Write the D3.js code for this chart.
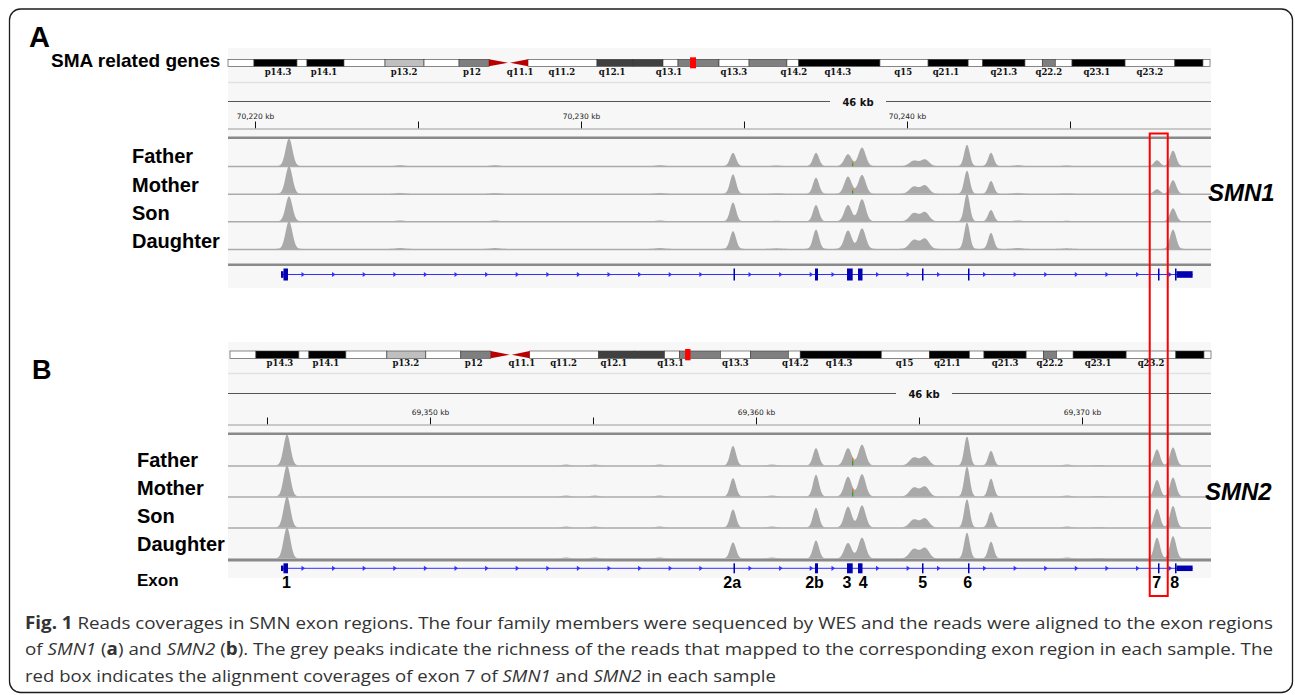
<!DOCTYPE html>
<html>
<head>
<meta charset="utf-8">
<title>Reads coverages in SMN exon regions</title>
<script src="https://cdn.jsdelivr.net/npm/d3@7/dist/d3.min.js"></script>
<style>
  html, body { margin: 0; padding: 0; background: #ffffff; }
  svg { display: block; }
</style>
</head>
<body>
<svg id="fig" width="1295" height="695"></svg>
<script>
// ======================= DATA =======================
const samples = ["Father", "Mother", "Son", "Daughter"];
const exonNames = ["1", "2a", "2b", "3", "4", "5", "6", "7", "8"];

// SMN1 (panel A) exon coordinates (kb)
const smn1ExonStart = [70220.798, 70234.678, 70237.178, 70238.160, 70238.497, 70240.460, 70241.871, 70247.699, 70248.221];
const smn1ExonEnd   = [70221.012, 70234.724, 70237.270, 70238.334, 70238.635, 70240.506, 70241.917, 70247.745, 70248.761];
const smn1Utr5End = 70220.874, smn1Utr3Start = 70248.267;
// SMN2 (panel B) exon coordinates (kb)
const smn2ExonStart = [69345.430, 69359.310, 69361.810, 69362.792, 69363.129, 69365.092, 69366.503, 69372.331, 69372.853];
const smn2ExonEnd   = [69345.644, 69359.356, 69361.902, 69362.966, 69363.267, 69365.138, 69366.549, 69372.377, 69373.393];
const smn2Utr5End = 69345.506, smn2Utr3Start = 69372.899;

// Visible windows (kb) and ruler ticks
const smn1View = [70219.172, 70249.325];
const smn2View = [69343.804, 69373.957];
const smn1TickKb = [70220, 70225, 70230, 70235, 70240, 70245];
const smn2TickKb = [69345, 69350, 69355, 69360, 69365, 69370];
const spanLabel = "46 kb";

// Coverage peaks (kb centres, widths) : 1, 2a, 2b, 3, 4, 5(a), 5(b), 6, 6', 7, 8
const peakIds = ["1", "2a", "2b", "3", "4", "5a", "5b", "6", "6b", "7", "8"];
const smn1PeakKb = [70221.043, 70234.663, 70237.209, 70238.190, 70238.620, 70240.215, 70240.552, 70241.840, 70242.577, 70247.669, 70248.160];
const smn2PeakKb = [69345.614, 69359.295, 69361.841, 69362.822, 69363.252, 69364.847, 69365.184, 69366.472, 69367.209, 69372.301, 69372.792];
const peakSdKb   = [0.105, 0.092, 0.092, 0.112, 0.112, 0.135, 0.125, 0.086, 0.086, 0.092, 0.095];

// Relative coverage (% of track range) per sample
const smn1Father   = [100, 48, 48, 43, 67, 20, 24, 77, 48, 21, 56];
const smn1Mother   = [100, 70, 58, 62, 68, 26, 30, 83, 46, 16, 49];
const smn1Son      = [90, 68, 59, 59, 80, 30, 33, 100, 41, 0, 47];
const smn1Daughter = [100, 64, 70, 67, 74, 33, 37, 95, 58, 0, 70];
const smn2Father   = [100, 63, 56, 56, 67, 26, 29, 93, 47, 52, 58];
const smn2Mother   = [100, 59, 70, 64, 72, 29, 32, 96, 57, 53, 61];
const smn2Son      = [100, 58, 63, 67, 71, 26, 29, 91, 50, 60, 69];
const smn2Daughter = [100, 52, 58, 50, 67, 31, 34, 83, 54, 67, 72];

// Low background bumps
const smn1MinorKb  = [70224.45, 70227.36, 70232.42, 70236.0, 70243.4, 70244.9];
const smn1MinorPct = [3, 3, 3, 2, 3, 2];
const smn2MinorKb  = [69354.17, 69355.05, 69357.04, 69360.49, 69369.54, 69370.51];
const smn2MinorPct = [3, 3, 3, 3, 3, 2];

// Mismatch marks (exon 3, Father and Mother)
const mismatchSamples = ["Father", "Mother"];
const smn1MismatchKb = 70238.331, smn1MismatchPct = 16;
const smn2MismatchKb = 69362.963, smn2MismatchPct = 25;

// Chromosome 5 ideogram (Mb)
const chrLengthMb = 181.5;
const bandStart = [0, 4.8, 12.75, 14.6, 21.44, 29.02, 36.23, 42.7, 48.24, 51.94, 55.45, 68.2, 74.86, 80.4, 83.17, 90.75, 96.3, 103.3, 105.5, 120.5, 129.4, 136.8, 139.5, 147.3, 150.5, 152.9, 156, 165.8, 175, 180.2];
const bandEnd   = [4.8, 12.75, 14.6, 21.44, 29.02, 36.23, 42.7, 48.24, 51.94, 55.45, 68.2, 74.86, 80.4, 83.17, 90.75, 96.3, 103.3, 105.5, 120.5, 129.4, 136.8, 139.5, 147.3, 150.5, 152.9, 156, 165.8, 175, 180.2, 181.5];
const bandStain = ["gneg","gpos100","gneg","gpos100","gneg","gpos25","gneg","gpos50","acen","acen","gneg","gpos75","gpos75","gneg","gpos50","gneg","gpos50","gneg","gpos100","gneg","gpos100","gneg","gpos100","gneg","gpos50","gneg","gpos100","gneg","gpos100","gneg"];
const bandLabels = ["p14.3","p14.1","p13.2","p12","q11.1","q11.2","q12.1","q13.1","q13.3","q14.2","q14.3","q15","q21.1","q21.3","q22.2","q23.1","q23.2"];
const bandLabelMb = [9.24, 17.74, 32.53, 45.1, 54.0, 61.7, 71.0, 81.5, 93.5, 104.6, 112.7, 124.8, 132.7, 143.4, 151.7, 160.6, 170.4];
const smn1MarkerMb = [85.4, 86.5];
const smn2MarkerMb = [84.2, 85.2];

// Caption
const captionLines = [
  [{t: "Fig. 1", w: "bold"}, {t: " Reads coverages in SMN exon regions. The four family members were sequenced by WES and the reads were aligned to the exon regions"}],
  [{t: "of "}, {t: "SMN1", s: "italic"}, {t: " ("}, {t: "a", w: "bold"}, {t: ") and "}, {t: "SMN2", s: "italic"}, {t: " ("}, {t: "b", w: "bold"}, {t: "). The grey peaks indicate the richness of the reads that mapped to the corresponding exon region in each sample. The"}],
  [{t: "red box indicates the alignment coverages of exon 7 of "}, {t: "SMN1", s: "italic"}, {t: " and "}, {t: "SMN2", s: "italic"}, {t: " in each sample"}]
];

// ======================= LAYOUT =======================
const FONT = "'Liberation Sans', Arial, Helvetica, sans-serif";
const stainColor = {gneg: "#ffffff", gpos25: "#bfbfbf", gpos50: "#7f7f7f", gpos75: "#404040", gpos100: "#000000"};
const COV_FILL = "#a9a9a9";
const GENE_LINE = "#3030ff";
const EXON_FILL = "#0000b0";

const panelA = {
  x0: 228, x1: 1211, bgTop: 48, bgBot: 288,
  ideoX0: 228, ideoX1: 1210, ideoTop: 59.3, ideoH: 7, bandLabelY: 74.5, sepY: 82.5,
  spanY: 101.5, spanLabelX: 858, rulerY: 128.5, dataTop: 136.5,
  trackTop: 138.5, trackH: 27.6, geneSepY: 263.5, geneY: 274.5, exonH: 12,
  labelX: 132, labelY0: 163.3, labelDy: 28.2,
  title: "A", titleX: 29, titleY: 46.5, titleSize: 29,
  gene: "SMN1", geneLabelX: 1208, geneLabelY: 200.5
};
const panelB = {
  x0: 228, x1: 1211, bgTop: 342, bgBot: 578,
  ideoX0: 230, ideoX1: 1211, ideoTop: 351, ideoH: 7.3, bandLabelY: 366, sepY: 373.5,
  spanY: 393.5, spanLabelX: 924, rulerY: 424.5, dataTop: 432.5,
  trackTop: 434.5, trackH: 31, geneSepY: 559, geneY: 568.3, exonH: 10,
  labelX: 137, labelY0: 466.6, labelDy: 28.2,
  title: "B", titleX: 32, titleY: 378.5, titleSize: 27,
  gene: "SMN2", geneLabelX: 1205, geneLabelY: 499.5
};

const dataA = {
  view: smn1View, ticks: smn1TickKb, marker: smn1MarkerMb,
  exonStart: smn1ExonStart, exonEnd: smn1ExonEnd, utr5End: smn1Utr5End, utr3Start: smn1Utr3Start,
  peakKb: smn1PeakKb, cov: [smn1Father, smn1Mother, smn1Son, smn1Daughter],
  minorKb: smn1MinorKb, minorPct: smn1MinorPct,
  mismatchKb: smn1MismatchKb, mismatchPct: smn1MismatchPct, exonLabels: false
};
const dataB = {
  view: smn2View, ticks: smn2TickKb, marker: smn2MarkerMb,
  exonStart: smn2ExonStart, exonEnd: smn2ExonEnd, utr5End: smn2Utr5End, utr3Start: smn2Utr3Start,
  peakKb: smn2PeakKb, cov: [smn2Father, smn2Mother, smn2Son, smn2Daughter],
  minorKb: smn2MinorKb, minorPct: smn2MinorPct,
  mismatchKb: smn2MismatchKb, mismatchPct: smn2MismatchPct, exonLabels: true
};

// ======================= DRAW =======================
const svg = d3.select("#fig");

svg.append("rect")
  .attr("x", 9.5).attr("y", 9).attr("width", 1283).attr("height", 683.5)
  .attr("rx", 11).attr("ry", 11)
  .attr("fill", "#ffffff").attr("stroke", "#1c1c1c").attr("stroke-width", 1.3);

const scales = {};

function drawPanel(P, D, key) {
  const g = svg.append("g");
  const x = d3.scaleLinear().domain(D.view).range([P.x0, P.x1]);
  scales[key] = x;

  // panel background
  g.append("rect").attr("x", P.x0).attr("y", P.bgTop)
    .attr("width", P.x1 - P.x0).attr("height", P.bgBot - P.bgTop).attr("fill", "#f7f7f7");

  // ---- ideogram ----
  const ix = d3.scaleLinear().domain([0, chrLengthMb]).range([P.ideoX0, P.ideoX1]);
  const bands = bandStart.map((s, i) => ({s, e: bandEnd[i], stain: bandStain[i]}));
  const top = P.ideoTop, h = P.ideoH, mid = top + h / 2, bot = top + h;
  g.append("g").selectAll("rect")
    .data(bands.filter(b => b.stain !== "acen")).join("rect")
    .attr("x", b => ix(b.s)).attr("y", top)
    .attr("width", b => ix(b.e) - ix(b.s)).attr("height", h)
    .attr("fill", b => stainColor[b.stain])
    .attr("stroke", "#3a3a3a").attr("stroke-width", 0.6);
  const acen = bands.filter(b => b.stain === "acen");
  g.append("path")
    .attr("d", `M${ix(acen[0].s)},${top}L${ix(acen[0].e) - 1},${mid}L${ix(acen[0].s)},${bot}Z`)
    .attr("fill", "#b80000");
  g.append("path")
    .attr("d", `M${ix(acen[1].s) + 1},${mid}L${ix(acen[1].e)},${top}L${ix(acen[1].e)},${bot}Z`)
    .attr("fill", "#b80000");
  g.append("rect")
    .attr("x", ix(D.marker[0])).attr("y", top - 2)
    .attr("width", ix(D.marker[1]) - ix(D.marker[0])).attr("height", h + 4)
    .attr("fill", "#ff0000");
  g.append("g").selectAll("text")
    .data(bandLabels).join("text")
    .attr("x", (d, i) => ix(bandLabelMb[i])).attr("y", P.bandLabelY)
    .attr("text-anchor", "middle")
    .attr("font-family", "'DejaVu Serif', 'Liberation Serif', serif")
    .attr("font-weight", "bold").attr("font-size", 8.5).attr("fill", "#111")
    .text(d => d);

  g.append("line").attr("x1", P.x0).attr("x2", P.x1)
    .attr("y1", P.sepY).attr("y2", P.sepY)
    .attr("stroke", "#e2e2e2").attr("stroke-width", 1.5);

  // ---- span row ----
  g.append("line").attr("x1", P.x0).attr("x2", P.spanLabelX - 28)
    .attr("y1", P.spanY).attr("y2", P.spanY).attr("stroke", "#555").attr("stroke-width", 1);
  g.append("line").attr("x1", P.spanLabelX + 28).attr("x2", P.x1)
    .attr("y1", P.spanY).attr("y2", P.spanY).attr("stroke", "#555").attr("stroke-width", 1);
  g.append("text").attr("x", P.spanLabelX).attr("y", P.spanY + 4)
    .attr("text-anchor", "middle").attr("font-family", "'DejaVu Sans', sans-serif")
    .attr("font-weight", "bold").attr("font-size", 10).attr("fill", "#111")
    .text(spanLabel);

  // ---- ruler ----
  const fmt = d3.format(",");
  const axis = d3.axisTop(x).tickValues(D.ticks).tickSize(7).tickPadding(3)
    .tickFormat(d => d % 10 === 0 ? fmt(d) + " kb" : "");
  const ag = g.append("g").attr("transform", `translate(0,${P.rulerY})`).call(axis);
  ag.select(".domain").remove();
  ag.selectAll(".tick line").attr("stroke", "#111").attr("stroke-width", 1);
  ag.selectAll(".tick text")
    .attr("font-family", "'DejaVu Sans', sans-serif").attr("font-size", 7.5).attr("fill", "#222");
  g.append("line").attr("x1", P.x0).attr("x2", P.x1)
    .attr("y1", P.rulerY + 0.5).attr("y2", P.rulerY + 0.5)
    .attr("stroke", "#9a9a9a").attr("stroke-width", 1);

  // thick separator above data tracks
  g.append("rect").attr("x", P.x0).attr("y", P.dataTop)
    .attr("width", P.x1 - P.x0).attr("height", 2.5).attr("fill", "#8a8a8a");

  // ---- coverage tracks ----
  const grid = d3.range(D.view[0], D.view[1] + 0.005, 0.01);
  samples.forEach((name, si) => {
    const base = P.trackTop + (si + 1) * P.trackH;
    const y = d3.scaleLinear().domain([0, 100]).range([base, base - P.trackH]);
    const hts = D.cov[si];
    const pts = grid.map(kb => {
      let v = 0;
      D.peakKb.forEach((p, i) => {
        const z = (kb - p) / peakSdKb[i];
        v += hts[i] * Math.exp(-0.5 * z * z);
      });
      D.minorKb.forEach((p, i) => {
        const z = (kb - p) / 0.13;
        v += D.minorPct[i] * Math.exp(-0.5 * z * z);
      });
      return {kb, v: Math.min(v, 100)};
    });
    const area = d3.area().x(d => x(d.kb)).y0(base).y1(d => y(d.v));
    g.append("path").datum(pts).attr("d", area).attr("fill", COV_FILL);
    g.append("line").attr("x1", P.x0).attr("x2", P.x1)
      .attr("y1", base + 0.5).attr("y2", base + 0.5)
      .attr("stroke", "#ababab").attr("stroke-width", 1.5);

    if (mismatchSamples.includes(name)) {
      const mx = x(D.mismatchKb);
      g.append("rect").attr("x", mx - 0.6).attr("y", y(D.mismatchPct * 0.6))
        .attr("width", 1.3).attr("height", base - y(D.mismatchPct * 0.6)).attr("fill", "#2e9e2e");
      g.append("rect").attr("x", mx - 0.6).attr("y", y(D.mismatchPct))
        .attr("width", 1.3).attr("height", y(D.mismatchPct * 0.6) - y(D.mismatchPct)).attr("fill", "#e07b10");
    }

    // sample label
    g.append("text").attr("x", P.labelX).attr("y", P.labelY0 + si * P.labelDy)
      .attr("font-family", FONT).attr("font-weight", "bold").attr("font-size", 20)
      .attr("fill", "#000").text(name);
  });

  // ---- gene track ----
  g.append("rect").attr("x", P.x0).attr("y", P.geneSepY)
    .attr("width", P.x1 - P.x0).attr("height", 2.5).attr("fill", "#8a8a8a");
  const nEx = D.exonStart.length;
  const gx0 = x(D.exonStart[0]), gx1 = x(D.exonEnd[nEx - 1]);
  g.append("line").attr("x1", gx0).attr("x2", gx1)
    .attr("y1", P.geneY).attr("y2", P.geneY).attr("stroke", GENE_LINE).attr("stroke-width", 1);

  // strand arrows along introns
  const arrows = [];
  for (let i = 0; i < nEx - 1; i++) {
    const a = x(D.exonEnd[i]), b = x(D.exonStart[i + 1]);
    let count = 0;
    for (let p = a + 15; p < b - 3; p += 30.6) { arrows.push(p); count++; }
    if (count === 0 && b - a > 12) arrows.push(b - 5);
  }
  g.append("g").selectAll("path").data(arrows).join("path")
    .attr("d", p => `M${p - 1.5},${P.geneY - 2.6}L${p + 2},${P.geneY}L${p - 1.5},${P.geneY + 2.6}Z`)
    .attr("fill", GENE_LINE);

  // exons
  const exons = D.exonStart.map((s, i) => ({name: exonNames[i], s, e: D.exonEnd[i]}));
  const full = P.exonH, half = P.exonH * 0.55;
  exons.forEach((ex, i) => {
    const segs = [];
    if (i === 0) {
      segs.push({a: ex.s, b: D.utr5End, hh: half});
      segs.push({a: D.utr5End, b: ex.e, hh: full});
    } else if (i === nEx - 1) {
      segs.push({a: ex.s, b: D.utr3Start, hh: full});
      segs.push({a: D.utr3Start, b: ex.e, hh: half});
    } else {
      segs.push({a: ex.s, b: ex.e, hh: full});
    }
    segs.forEach(sg => {
      const w = Math.max(1.5, x(sg.b) - x(sg.a));
      g.append("rect").attr("x", x(sg.a)).attr("y", P.geneY - sg.hh / 2)
        .attr("width", w).attr("height", sg.hh).attr("fill", EXON_FILL);
    });
  });

  if (D.exonLabels) {
    const shift = {"1": 2, "2a": -2, "2b": -2, "3": -3, "4": 3, "5": 0, "6": -1, "7": -2, "8": -9};
    g.append("g").selectAll("text").data(exons).join("text")
      .attr("x", d => x((d.s + d.e) / 2) + shift[d.name])
      .attr("y", P.geneY + 19.5)
      .attr("text-anchor", "middle")
      .attr("font-family", FONT).attr("font-weight", "bold").attr("font-size", 16)
      .attr("fill", "#000").text(d => d.name);
    g.append("text").attr("x", P.labelX).attr("y", P.geneY + 17.5)
      .attr("font-family", FONT).attr("font-weight", "bold").attr("font-size", 17)
      .attr("fill", "#000").text("Exon");
  }

  // panel letter and gene name
  g.append("text").attr("x", P.titleX).attr("y", P.titleY)
    .attr("font-family", FONT).attr("font-weight", "bold").attr("font-size", P.titleSize)
    .attr("fill", "#000").text(P.title);
  g.append("text").attr("x", P.geneLabelX).attr("y", P.geneLabelY)
    .attr("font-family", FONT).attr("font-weight", "bold").attr("font-style", "italic")
    .attr("font-size", 24).attr("fill", "#000").text(P.gene);
}

drawPanel(panelA, dataA, "A");
drawPanel(panelB, dataB, "B");

// "SMA related genes" label
svg.append("text").attr("x", 51).attr("y", 66.5)
  .attr("font-family", FONT).attr("font-weight", "bold").attr("font-size", 19)
  .attr("fill", "#000").text("SMA related genes");

// red highlight box around exon 7
(function () {
  const xA = scales.A;
  const cx = xA((smn1ExonStart[7] + smn1ExonEnd[7]) / 2);
  svg.append("rect").attr("x", cx - 9).attr("y", 133.5)
    .attr("width", 18).attr("height", 462.5)
    .attr("fill", "none").attr("stroke", "#ff0000").attr("stroke-width", 2);
})();

// caption
const capY = [628.5, 655, 681.5];
const capLen = [1248, 1248, 751];
captionLines.forEach((line, li) => {
  const t = svg.append("text").attr("x", 25).attr("y", capY[li])
    .attr("font-family", "'Open Sans', 'Noto Sans', sans-serif").attr("font-size", 17)
    .attr("fill", "#333").attr("textLength", capLen[li]).attr("lengthAdjust", "spacingAndGlyphs");
  line.forEach(seg => {
    t.append("tspan").attr("font-weight", seg.w || "normal")
      .attr("font-style", seg.s || "normal").text(seg.t);
  });
});
</script>
</body>
</html>
